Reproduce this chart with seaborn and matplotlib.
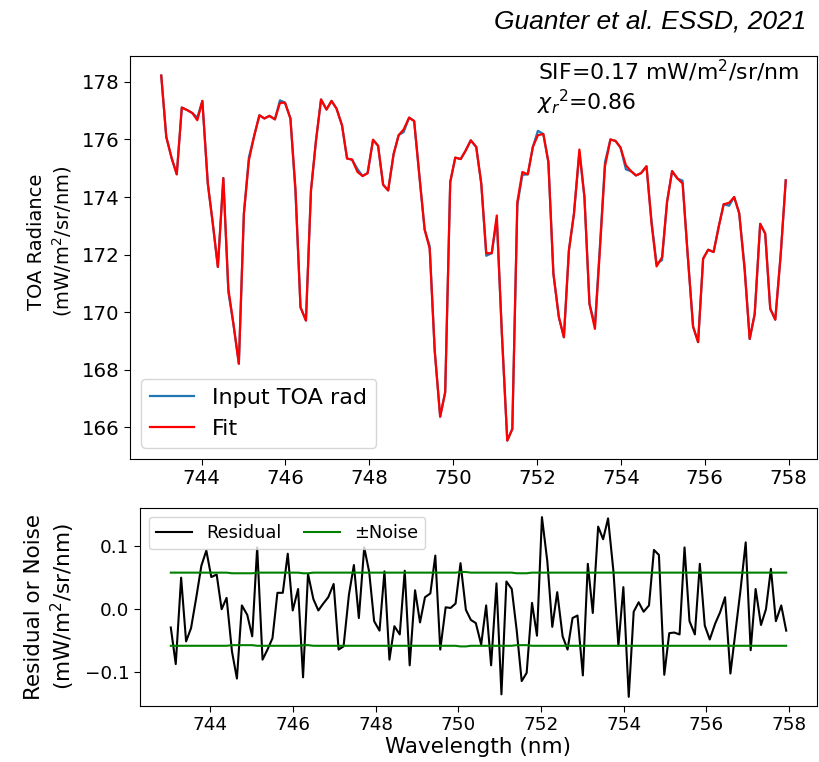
import matplotlib
matplotlib.use("Agg")
import matplotlib.pyplot as plt
import seaborn as sns

# ---------------- data ----------------
wavelength = [743.04, 743.16, 743.29, 743.41, 743.53, 743.66, 743.78, 743.90, 744.02, 744.15,
              744.27, 744.39, 744.52, 744.64, 744.76, 744.89, 745.01, 745.13, 745.26, 745.38,
              745.50, 745.62, 745.75, 745.87, 745.99, 746.12, 746.24, 746.36, 746.49, 746.61,
              746.73, 746.85, 746.98, 747.10, 747.22, 747.35, 747.47, 747.59, 747.72, 747.84,
              747.96, 748.09, 748.21, 748.33, 748.45, 748.58, 748.70, 748.82, 748.95, 749.07,
              749.19, 749.32, 749.44, 749.56, 749.69, 749.81, 749.93, 750.05, 750.18, 750.30,
              750.42, 750.55, 750.67, 750.79, 750.92, 751.04, 751.16, 751.29, 751.41, 751.53,
              751.65, 751.78, 751.90, 752.02, 752.15, 752.27, 752.39, 752.52, 752.64, 752.76,
              752.88, 753.01, 753.13, 753.25, 753.38, 753.50, 753.62, 753.75, 753.87, 753.99,
              754.12, 754.24, 754.36, 754.48, 754.61, 754.73, 754.85, 754.98, 755.10, 755.22,
              755.35, 755.47, 755.59, 755.72, 755.84, 755.96, 756.08, 756.21, 756.33, 756.45,
              756.58, 756.70, 756.82, 756.95, 757.07, 757.19, 757.32, 757.44, 757.56, 757.68,
              757.81, 757.93]

toa_fit = [178.22, 176.09, 175.34, 174.79, 177.11, 177.02, 176.92, 176.67, 177.34, 174.47,
           173.07, 171.57, 174.66, 170.81, 169.60, 168.21, 173.42, 175.28, 176.15, 176.84,
           176.73, 176.82, 176.70, 177.27, 177.28, 176.73, 174.29, 170.17, 169.71, 174.23,
           175.97, 177.39, 177.04, 177.34, 177.07, 176.49, 175.34, 175.30, 174.87, 174.73,
           174.83, 175.99, 175.78, 174.43, 174.23, 175.49, 176.15, 176.35, 176.76, 176.64,
           174.81, 172.87, 172.21, 168.67, 166.37, 167.22, 174.52, 175.37, 175.32, 175.62,
           175.97, 175.74, 174.47, 172.05, 172.05, 173.36, 169.30, 165.54, 165.94, 173.83,
           174.87, 174.79, 175.74, 176.15, 176.19, 175.22, 171.34, 169.83, 169.13, 172.15,
           173.42, 175.65, 174.00, 170.29, 169.42, 172.20, 175.07, 176.00, 175.95, 175.72,
           175.10, 174.90, 174.75, 174.83, 175.07, 173.07, 171.59, 171.91, 173.83, 174.90,
           174.64, 174.47, 172.03, 169.50, 168.96, 171.86, 172.17, 172.09, 172.96, 173.75,
           173.80, 174.00, 173.44, 171.45, 169.07, 169.94, 173.07, 172.73, 170.12, 169.74,
           172.01, 174.58]

toa_input = [178.22, 176.09, 175.34, 174.79, 177.11, 177.02, 176.92, 176.76, 177.34, 174.47,
             173.07, 171.57, 174.66, 170.70, 169.60, 168.21, 173.42, 175.38, 176.15, 176.84,
             176.73, 176.82, 176.70, 177.36, 177.28, 176.73, 174.18, 170.17, 169.71, 174.23,
             175.97, 177.39, 177.04, 177.34, 177.07, 176.49, 175.34, 175.30, 174.97, 174.73,
             174.83, 175.99, 175.78, 174.43, 174.23, 175.49, 176.15, 176.26, 176.76, 176.64,
             174.81, 172.87, 172.29, 168.67, 166.37, 167.22, 174.52, 175.37, 175.32, 175.62,
             175.97, 175.74, 174.47, 171.96, 172.05, 173.23, 169.30, 165.54, 165.94, 173.72,
             174.77, 174.79, 175.74, 176.30, 176.19, 175.22, 171.34, 169.83, 169.13, 172.15,
             173.42, 175.55, 174.00, 170.29, 169.55, 172.31, 175.21, 176.00, 175.95, 175.72,
             174.96, 174.90, 174.75, 174.83, 175.07, 173.16, 171.68, 171.81, 173.83, 174.90,
             174.64, 174.57, 172.03, 169.50, 168.96, 171.86, 172.17, 172.09, 172.96, 173.75,
             173.70, 174.00, 173.44, 171.56, 169.07, 169.94, 173.07, 172.73, 170.12, 169.74,
             172.01, 174.58]

residual = [-0.029, -0.087, 0.050, -0.051, -0.030, 0.020, 0.069, 0.093, 0.051, 0.055,
            0.000, 0.018, -0.067, -0.110, 0.006, -0.009, -0.043, 0.098, -0.080, -0.064,
            -0.046, 0.026, 0.026, 0.088, -0.002, 0.032, -0.108, 0.056, 0.016, -0.002,
            0.009, 0.019, 0.040, -0.064, -0.059, 0.023, 0.070, -0.014, 0.098, 0.059,
            -0.019, -0.034, 0.060, -0.080, -0.027, -0.040, 0.061, -0.089, 0.030, -0.021,
            0.019, 0.025, 0.085, -0.064, 0.003, 0.002, 0.009, 0.073, -0.001, -0.017,
            -0.022, -0.056, 0.006, -0.089, 0.041, -0.135, 0.044, 0.032, -0.034, -0.114,
            -0.101, 0.010, -0.042, 0.146, 0.076, -0.028, 0.027, -0.043, -0.064, -0.014,
            -0.010, -0.105, 0.072, -0.006, 0.131, 0.111, 0.144, 0.060, -0.058, 0.035,
            -0.139, -0.004, 0.011, -0.004, 0.006, 0.094, 0.086, -0.104, -0.038, -0.037,
            -0.040, 0.098, -0.019, -0.040, 0.072, -0.026, -0.048, -0.023, -0.005, 0.019,
            -0.102, -0.037, 0.028, 0.106, -0.065, 0.032, -0.025, 0.000, 0.064, -0.019,
            0.006, -0.034]

noise = [0.058, 0.058, 0.058, 0.058, 0.058, 0.058, 0.058, 0.058, 0.058, 0.058,
         0.058, 0.058, 0.057, 0.057, 0.057, 0.057, 0.057, 0.058, 0.058, 0.058,
         0.058, 0.058, 0.058, 0.058, 0.058, 0.058, 0.057, 0.057, 0.058, 0.058,
         0.058, 0.058, 0.058, 0.058, 0.058, 0.058, 0.058, 0.058, 0.058, 0.058,
         0.058, 0.058, 0.058, 0.058, 0.058, 0.058, 0.058, 0.058, 0.058, 0.058,
         0.058, 0.058, 0.058, 0.058, 0.058, 0.058, 0.058, 0.059, 0.059, 0.058,
         0.058, 0.058, 0.058, 0.058, 0.058, 0.058, 0.058, 0.058, 0.057, 0.057,
         0.057, 0.058, 0.058, 0.058, 0.058, 0.058, 0.058, 0.058, 0.058, 0.058,
         0.058, 0.058, 0.058, 0.058, 0.058, 0.058, 0.058, 0.058, 0.058, 0.058,
         0.058, 0.058, 0.058, 0.058, 0.058, 0.058, 0.058, 0.058, 0.058, 0.058,
         0.058, 0.058, 0.058, 0.058, 0.058, 0.058, 0.058, 0.058, 0.058, 0.058,
         0.058, 0.058, 0.058, 0.058, 0.058, 0.058, 0.058, 0.058, 0.058, 0.058,
         0.058, 0.058]
neg_noise = [-v for v in noise]

sif_text = "SIF=0.17 mW/m$^2$/sr/nm"
chi_text = r"$\chi_r$$^2$=0.86"
credit = "Guanter et al. ESSD, 2021"

# ---------------- figure ----------------
W, H = 820, 762
fig = plt.figure(figsize=(W / 100, H / 100), dpi=100)


def rect(l, t, r, b):
    return [l / W, 1 - b / H, (r - l) / W, (b - t) / H]


ax1 = fig.add_axes(rect(130, 56, 817, 459))
ax2 = fig.add_axes(rect(140, 508, 817, 706))

# top panel
sns.lineplot(x=wavelength, y=toa_input, ax=ax1, color="#1f77b4", lw=1.6,
             label="Input TOA rad", estimator=None, sort=False)
sns.lineplot(x=wavelength, y=toa_fit, ax=ax1, color="red", lw=1.6,
             label="Fit", estimator=None, sort=False)
ax1.set_xlim(742.295, 758.675)
ax1.set_ylim(164.9, 178.9)
ax1.set_xticks([744, 746, 748, 750, 752, 754, 756, 758])
ax1.set_yticks([166, 168, 170, 172, 174, 176, 178])
ax1.tick_params(labelsize=14.2, length=4)
ax1.set_xlabel("")
ax1.set_ylabel("TOA Radiance\n(mW/m$^2$/sr/nm)", fontsize=14)
ax1.yaxis.set_label_coords(-0.082, 0.54)
ax1.legend(loc="lower left", fontsize=16, handlelength=2.0)

fig.text(538 / W, 1 - 80 / H, sif_text, fontsize=15.8, va="baseline", ha="left")
fig.text(537 / W, 1 - 110 / H, chi_text, fontsize=15.8, va="baseline", ha="left")

# bottom panel
sns.lineplot(x=wavelength, y=residual, ax=ax2, color="black", lw=1.5,
             label="Residual", estimator=None, sort=False)
sns.lineplot(x=wavelength, y=noise, ax=ax2, color="green", lw=1.5,
             label="\u00b1Noise", estimator=None, sort=False)
sns.lineplot(x=wavelength, y=neg_noise, ax=ax2, color="green", lw=1.5,
             estimator=None, sort=False, legend=False)
ax2.set_xlim(742.295, 758.675)
ax2.set_ylim(-0.1535, 0.1605)
ax2.set_xticks([744, 746, 748, 750, 752, 754, 756, 758])
ax2.set_yticks([-0.1, 0.0, 0.1])
ax2.tick_params(labelsize=13.2, length=4)
ax2.set_xlabel("Wavelength (nm)", fontsize=15.5, labelpad=2)
ax2.set_ylabel("Residual or Noise\n(mW/m$^2$/sr/nm)", fontsize=15.5)
ax2.yaxis.set_label_coords(-0.093, 0.5)
ax2.legend(loc="upper left", ncol=2, fontsize=12.8, handlelength=2.0,
           columnspacing=1.3)

fig.text(806 / W, 1 - 22 / H, credit, ha="right", va="center", fontsize=19,
         style="italic", family="Liberation Sans")

fig.savefig("out.png", dpi=100)
